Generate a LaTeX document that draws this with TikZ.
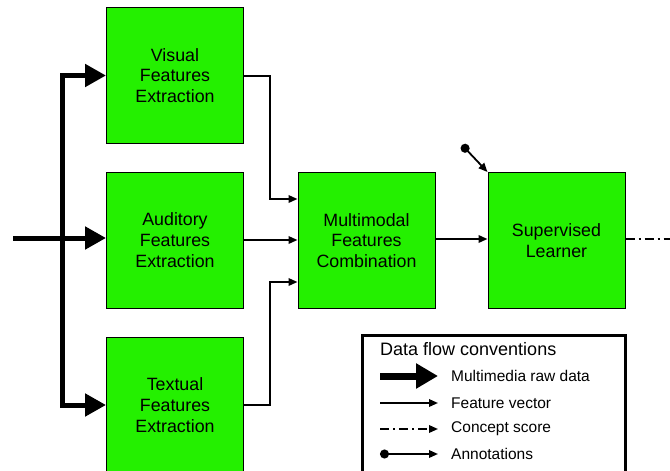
\documentclass[tikz,border=0pt]{standalone}
\usepackage{fontspec}
\setmainfont{Liberation Sans}
\usetikzlibrary{arrows.meta}
\definecolor{boxgreen}{RGB}{36,240,0}
\tikzset{
  blk/.style={rectangle, draw=black, line width=1pt, fill=boxgreen, minimum width=137pt, minimum height=136pt, inner sep=0pt, align=center, font=\fontsize{17.8}{20.7}\selectfont},
  raw/.style={line width=5pt, line join=miter, -{Triangle[length=21pt,width=22pt]}},
  rawl/.style={line width=7pt, -{Triangle[length=22pt,width=24pt]}},
  fv/.style={line width=1.8pt, -{Triangle[length=9pt,width=7.5pt]}},
  cs/.style={line width=1.8pt, dash pattern=on 9pt off 4pt on 2pt off 4pt},
  csa/.style={cs, -{Triangle[length=9pt,width=7.5pt]}},
  ann/.style={line width=1.8pt, {Circle[length=9pt]}-{Triangle[length=9pt,width=7.5pt]}},
  lgtxt/.style={anchor=west, inner sep=0pt, font=\fontsize{15.5}{18}\selectfont}
}
\begin{document}
\begin{tikzpicture}[x=1pt,y=-1pt]
\useasboundingbox (0,0) rectangle (670,471);
\clip (0,0) rectangle (670,471);
% blocks
\node[blk] (vis) at (175,75.5) {Visual\\Features\\Extraction};
\node[blk] (aud) at (175,240) {Auditory\\Features\\Extraction};
\node[blk] (tex) at (175,405) {Textual\\Features\\Extraction};
\node[blk] (mm) at (366.5,240.5) {Multimodal\\Features\\Combination};
\node[blk] (sup) at (556.5,240.5) {Supervised\\Learner};
% raw data bus
\coordinate (in) at (13,238);
\coordinate (bus) at (62.5,238);
\draw[line width=5pt] (in) -- (bus);
\draw[raw] (bus) |- (vis.west);
\draw[raw] (bus) |- (tex.west);
\draw[raw] (bus) -- (aud.west |- bus);
% feature vectors
\coordinate (j1) at (270,199);
\coordinate (j2) at (270,282);
\draw[fv] (vis.east |- 0,76) -| (j1) -- (j1 -| mm.west);
\draw[fv] (aud.east) -- (mm.west |- aud.east);
\draw[fv] (tex.east) -| (j2) -- (j2 -| mm.west);
\draw[fv] (mm.east |- 0,239) -- (sup.west |- 0,239);
% annotation
\coordinate (andot) at (462,145);
\draw[ann] (andot) -- (sup.north west);
% concept score out
\coordinate (out) at (672,239);
\draw[cs] (sup.east |- out) -- (out);
% legend
\draw[line width=3pt] (362,480) -- (362,335) -- (625,335) -- (625,480);
\node[anchor=west, inner sep=0pt, font=\fontsize{18}{20}\selectfont] (lgt) at (380,349) {Data flow conventions};
\coordinate (l1a) at (380,376); \coordinate (l1b) at (438,376);
\coordinate (l2a) at (380,403); \coordinate (l2b) at (438,403);
\coordinate (l3a) at (380,429); \coordinate (l3b) at (438,429);
\coordinate (l4a) at (380,454); \coordinate (l4b) at (438,454);
\draw[rawl] (l1a) -- (l1b);
\draw[fv] (l2a) -- (l2b);
\draw[csa] (l3a) -- (l3b);
\draw[ann] (l4a) -- (l4b);
\node[lgtxt] (t1) at (451,376) {Multimedia raw data};
\node[lgtxt] (t2) at (451,403) {Feature vector};
\node[lgtxt] (t3) at (451,429) {Concept score};
\node[lgtxt] (t4) at (451,454) {Annotations};
\end{tikzpicture}
\end{document}
